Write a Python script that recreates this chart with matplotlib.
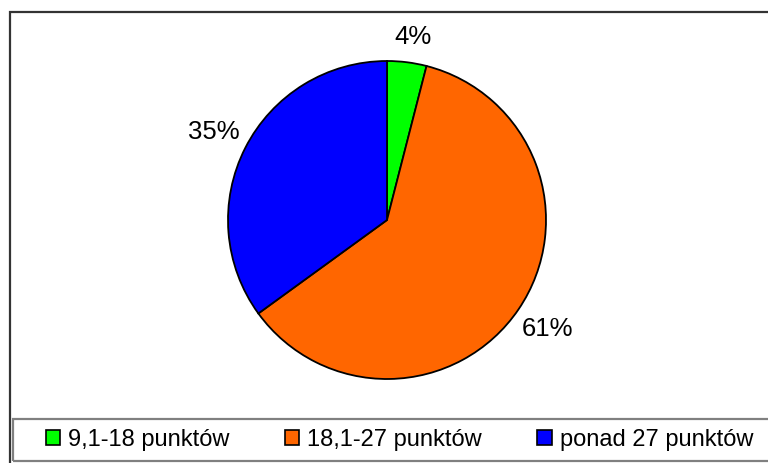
import matplotlib.pyplot as plt
from matplotlib.patches import Rectangle

plt.rcParams['font.family'] = ['Liberation Sans', 'DejaVu Sans']

labels = ["9,1-18 punktów", "18,1-27 punktów", "ponad 27 punktów"]
values = [4, 61, 35]
colors = ["#00FF00", "#FF6600", "#0000FF"]

W, H = 768, 463
fig = plt.figure(figsize=(W / 100, H / 100), dpi=100)
ax = fig.add_axes([0, 0, 1, 1])

wedges, texts, autotexts = ax.pie(values, colors=colors, startangle=90, counterclock=False,
                                  center=(387, H - 220), radius=159,
                                  autopct='%1.0f%%', pctdistance=1.22,
                                  wedgeprops=dict(edgecolor='black', linewidth=1.3),
                                  textprops=dict(fontsize=18.5, color='black'))
autotexts[0].set_position((387 + 0.14 * 185, H - 220 + 0.99 * 185))
ax.set_xlim(0, W)
ax.set_ylim(0, H)
ax.set_aspect('equal')
ax.axis('off')

# outer frame
fig.patches.append(Rectangle((10 / W, -0.1), 1.2, 1.1 - 12 / H, transform=fig.transFigure,
                             fill=False, edgecolor='#333333', linewidth=1.6))
# legend frame
fig.patches.append(Rectangle((13 / W, 1 - 461 / H), 780 / W, 42 / H, transform=fig.transFigure,
                             fill=False, edgecolor='#808080', linewidth=1.6))

leg = fig.legend(wedges, labels, ncol=3, loc='center left', bbox_to_anchor=(46 / W, 1 - 440 / H),
                 fontsize=17, frameon=False, handlelength=0.6, handleheight=0.6,
                 handletextpad=0.34, columnspacing=2.35, borderpad=0, borderaxespad=0)
for h in leg.legend_handles:
    h.set_edgecolor('black')
    h.set_linewidth(1.2)

fig.savefig("out.png", dpi=100)
